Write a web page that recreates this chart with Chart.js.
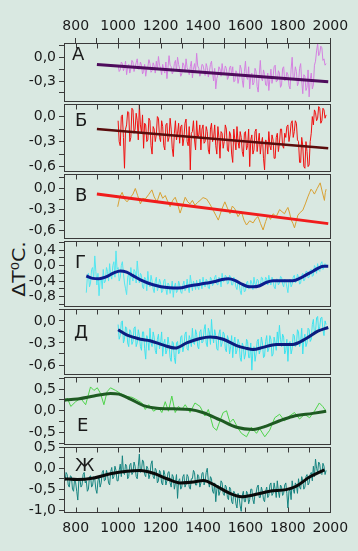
<!DOCTYPE html>
<html><head><meta charset="utf-8">
<script src="https://cdn.jsdelivr.net/npm/chart.js@4.4.1/dist/chart.umd.min.js"></script>
<style>
html,body{margin:0;padding:0;background:#d9e8e1;}
#wrap{position:relative;width:358px;height:551px;overflow:hidden;background:#d9e8e1;}
#wrap canvas{position:absolute;left:0;}
#ytitle{position:absolute;left:19px;top:269px;font-family:"DejaVu Sans";font-size:17px;color:#1a1a1a;white-space:nowrap;transform:translate(-50%,-50%) rotate(-90deg) scaleX(1.2);}
#ytitle sup{font-size:11px;}
</style></head>
<body>
<div id="wrap"><div id="ytitle">ΔT<sup>0</sup>C.</div></div>
<script>
// ---------- axis ticks ----------
const xTickYears = [800,900,1000,1100,1200,1300,1400,1500,1600,1700,1800,1900,2000];

// ---------- shared 5-year grids ----------
const years1000 = [1000,1005,1010,1015,1020,1025,1030,1035,1040,1045,1050,1055,1060,1065,1070,1075,1080,1085,1090,1095,
1100,1105,1110,1115,1120,1125,1130,1135,1140,1145,1150,1155,1160,1165,1170,1175,1180,1185,1190,1195,
1200,1205,1210,1215,1220,1225,1230,1235,1240,1245,1250,1255,1260,1265,1270,1275,1280,1285,1290,1295,
1300,1305,1310,1315,1320,1325,1330,1335,1340,1345,1350,1355,1360,1365,1370,1375,1380,1385,1390,1395,
1400,1405,1410,1415,1420,1425,1430,1435,1440,1445,1450,1455,1460,1465,1470,1475,1480,1485,1490,1495,
1500,1505,1510,1515,1520,1525,1530,1535,1540,1545,1550,1555,1560,1565,1570,1575,1580,1585,1590,1595,
1600,1605,1610,1615,1620,1625,1630,1635,1640,1645,1650,1655,1660,1665,1670,1675,1680,1685,1690,1695,
1700,1705,1710,1715,1720,1725,1730,1735,1740,1745,1750,1755,1760,1765,1770,1775,1780,1785,1790,1795,
1800,1805,1810,1815,1820,1825,1830,1835,1840,1845,1850,1855,1860,1865,1870,1875,1880,1885,1890,1895,
1900,1905,1910,1915,1920,1925,1930,1935,1940,1945,1950,1955,1960,1965,1970,1975,1980];
const years850 = [850,855,860,865,870,875,880,885,890,895,
900,905,910,915,920,925,930,935,940,945,950,955,960,965,970,975,980,985,990,995].concat(years1000);
const years750 = [750,755,760,765,770,775,780,785,790,795,
800,805,810,815,820,825,830,835,840,845,850,855,860,865,870,875,880,885,890,895,
900,905,910,915,920,925,930,935,940,945,950,955,960,965,970,975,980,985,990,995].concat(years1000);

// ---------- Panel А ----------
const valsA = [
 -0.10,-0.18,-0.16,-0.06,-0.08,-0.17,-0.13,-0.05,-0.22,-0.12,-0.09,-0.20,-0.14,-0.04,-0.06,-0.18,-0.12,-0.07,-0.02,-0.15,
 -0.15,-0.06,-0.10,-0.21,-0.18,-0.09,-0.24,-0.15,-0.12,-0.03,-0.08,-0.19,-0.17,-0.07,-0.11,-0.20,-0.05,-0.16,0.01,-0.10,
 -0.14,-0.22,-0.09,-0.16,-0.20,-0.06,-0.27,-0.13,0.02,-0.10,-0.12,-0.21,-0.18,-0.08,-0.04,-0.17,0.00,-0.09,-0.15,-0.24,
 -0.21,-0.07,-0.10,-0.19,-0.02,-0.13,-0.16,-0.22,-0.12,-0.05,-0.26,-0.15,-0.08,-0.18,0.05,-0.11,-0.14,-0.24,-0.19,-0.09,
 -0.10,-0.17,-0.23,-0.08,-0.13,-0.25,-0.18,-0.09,-0.05,-0.20,-0.30,-0.14,-0.40,-0.27,-0.22,-0.12,-0.15,-0.24,-0.08,-0.19,
 -0.20,-0.11,-0.14,-0.28,-0.25,-0.13,-0.11,-0.22,-0.12,-0.31,-0.30,-0.17,-0.20,-0.33,-0.26,-0.10,-0.15,-0.29,-0.38,-0.18,
 -0.05,-0.25,-0.28,-0.12,-0.40,-0.24,-0.20,-0.35,-0.32,-0.14,-0.18,-0.37,-0.44,-0.22,-0.04,-0.26,-0.30,-0.16,-0.22,-0.35,
 -0.36,-0.20,-0.42,-0.28,-0.15,-0.33,-0.25,-0.12,-0.10,-0.31,-0.30,-0.17,-0.20,-0.38,-0.35,-0.14,-0.12,-0.30,-0.28,-0.19,
 -0.22,-0.36,-0.40,-0.15,0.00,-0.28,-0.25,-0.12,-0.18,-0.36,-0.32,-0.14,-0.08,-0.30,-0.46,-0.22,-0.24,-0.42,-0.38,-0.16,
 -0.50,-0.28,-0.20,-0.40,-0.35,-0.10,-0.05,0.08,0.17,0.02,0.05,0.14,0.12,-0.04,-0.02,-0.10,-0.08];
const trendYearsA = [900,1990];
const trendA = [-0.09,-0.31];

// ---------- Panel Б ----------
const valsB = [
 -0.05,-0.30,-0.35,0.00,0.02,-0.25,-0.62,-0.15,-0.10,0.06,0.05,-0.30,-0.25,0.10,0.08,-0.20,-0.15,0.04,-0.05,-0.28,
 0.14,-0.10,-0.20,0.02,-0.38,-0.08,-0.10,-0.30,-0.28,-0.02,-0.05,-0.35,-0.45,-0.12,-0.15,-0.30,-0.22,0.00,-0.02,-0.25,
 -0.30,-0.05,-0.12,-0.35,-0.40,-0.10,-0.08,-0.30,-0.25,-0.02,-0.15,-0.38,-0.48,-0.20,-0.05,-0.28,-0.20,-0.08,-0.32,-0.12,
 -0.10,-0.35,-0.26,-0.08,-0.03,-0.30,-0.35,-0.12,-0.64,-0.20,-0.18,-0.05,-0.28,-0.40,-0.05,-0.25,-0.22,-0.10,-0.40,-0.15,
 -0.10,-0.32,-0.30,-0.12,-0.18,-0.40,-0.45,-0.15,-0.08,-0.30,-0.25,-0.10,-0.35,-0.45,-0.12,-0.25,-0.50,-0.18,-0.20,-0.38,
 -0.30,-0.10,-0.15,-0.40,-0.42,-0.18,-0.22,-0.45,-0.55,-0.15,-0.28,-0.40,-0.12,-0.30,-0.38,-0.18,-0.25,-0.42,-0.48,-0.20,
 -0.18,-0.40,-0.35,-0.15,-0.60,-0.28,-0.22,-0.45,-0.40,-0.18,-0.15,-0.42,-0.30,-0.20,-0.45,-0.32,-0.25,-0.50,-0.64,-0.28,
 -0.30,-0.45,-0.18,-0.35,-0.40,-0.22,-0.28,-0.50,-0.50,-0.25,-0.20,-0.42,-0.32,-0.15,-0.15,-0.35,-0.38,-0.20,-0.25,-0.12,
 -0.10,-0.30,-0.22,-0.08,-0.05,-0.25,-0.18,-0.05,-0.08,-0.28,-0.30,-0.55,-0.55,-0.25,-0.35,-0.60,-0.62,-0.30,-0.42,-0.60,
 -0.58,-0.30,-0.20,0.00,-0.10,0.08,0.05,-0.05,-0.02,0.12,0.10,-0.08,-0.05,0.10,0.08,-0.02,0.02];
const trendYearsB = [900,1990];
const trendB = [-0.15,-0.38];

// ---------- Panel В ----------
const yearsV = [998,1008,1019,1030,1042,1060,1070,1081,1092,1105,1116,1128,1143,1159,1170,1183,1198,1210,1222,1233,1245,1257,1269,1280,1292,1304,1316,1328,1339,1350,1362,1374,1386,1400,1417,1432,1448,1460,1472,1488,1503,1515,1527,1538,1550,1565,1581,1593,1605,1620,1636,1648,1659,1671,1683,1695,1706,1718,1730,1745,1761,1772,1784,1792,1800,1808,1816,1824,1831,1839,1847,1858,1870,1882,1894,1902,1909,1917,1925,1938,1952,1962,1972,1976,1980];
const valsV = [-0.26,-0.12,-0.055,-0.15,-0.19,
 -0.12,-0.08,0.00,-0.10,-0.22,
 -0.14,-0.15,-0.09,-0.02,-0.12,
 -0.19,-0.055,-0.14,-0.10,-0.18,
 -0.26,-0.17,-0.125,-0.22,-0.35,
 -0.24,-0.125,-0.19,-0.22,-0.17,
 -0.24,-0.20,-0.17,-0.13,-0.15,
 -0.22,-0.31,-0.38,-0.45,-0.30,
 -0.19,-0.28,-0.36,-0.25,-0.29,
 -0.40,-0.33,-0.45,-0.52,-0.46,
 -0.49,-0.43,-0.40,-0.50,-0.59,
 -0.47,-0.38,-0.44,-0.36,-0.40,
 -0.30,-0.33,-0.36,-0.31,-0.27,
 -0.35,-0.45,-0.50,-0.56,-0.47,
 -0.38,-0.34,-0.31,-0.22,-0.12,
 -0.06,-0.01,-0.04,-0.08,0.00,
 0.08,-0.05,-0.17,-0.06,-0.01];
const trendYearsV = [900,1990];
const trendV = [-0.08,-0.50];

// ---------- Panel Г ----------
const valsG = [
 -0.70,-0.30,-0.20,-0.55,-0.45,-0.10,-0.05,-0.35,0.25,-0.15,
 -0.50,-0.20,-0.78,-0.40,-0.30,-0.60,-0.10,-0.45,-0.40,-0.05,-0.15,-0.40,0.05,-0.25,-0.35,0.00,0.10,-0.30,0.38,-0.10,
 -0.05,-0.40,-0.30,0.00,0.10,-0.20,-0.45,-0.60,-0.75,-0.30,-0.20,-0.50,-0.05,-0.30,-0.40,-0.10,-0.15,-0.45,0.12,-0.20,
 -0.45,-0.20,-0.25,-0.55,-0.60,-0.30,-0.35,-0.65,-0.15,-0.45,-0.55,-0.25,-0.40,-0.60,-0.70,-0.40,-0.30,-0.65,-0.55,-0.35,
 -0.45,-0.70,-0.65,-0.40,-0.35,-0.60,-0.75,-0.45,-0.50,-0.72,-0.60,-0.40,-0.82,-0.55,-0.45,-0.70,-0.65,-0.40,-0.50,-0.68,
 -0.72,-0.50,-0.40,-0.65,-0.60,-0.35,-0.55,-0.70,-0.25,-0.45,-0.65,-0.40,-0.50,-0.62,-0.38,-0.55,-0.62,-0.35,-0.45,-0.60,
 -0.30,-0.50,-0.55,-0.35,-0.40,-0.58,-0.60,-0.30,-0.35,-0.52,-0.45,-0.30,-0.25,-0.48,-0.50,-0.30,-0.35,-0.55,-0.20,-0.42,
 -0.40,-0.25,-0.28,-0.48,-0.45,-0.25,-0.30,-0.50,-0.50,-0.30,-0.38,-0.55,-0.62,-0.40,-0.45,-0.65,-0.75,-0.45,-0.50,-0.68,
 -0.65,-0.45,-0.40,-0.60,-0.58,-0.38,-0.45,-0.62,-0.30,-0.48,-0.50,-0.35,-0.38,-0.55,-0.55,-0.30,-0.32,-0.50,-0.48,-0.30,
 -0.35,-0.50,-0.25,-0.42,-0.50,-0.30,-0.40,-0.55,-0.60,-0.35,-0.35,-0.50,-0.45,-0.28,-0.30,-0.48,-0.55,-0.35,-0.40,-0.55,
 -0.70,-0.40,-0.35,-0.55,-0.48,-0.30,-0.25,-0.45,-0.40,-0.22,-0.30,-0.48,-0.45,-0.25,-0.20,-0.40,-0.35,-0.15,-0.15,-0.32,
 -0.30,-0.12,-0.10,-0.28,-0.25,0.00,-0.05,-0.20,0.05,-0.12,-0.15,0.05,0.10,-0.10,-0.05,0.05,0.02];
const smoothYearsG = [850,880,910,940,980,1010,1040,1070,1105,1140,1183,1220,1261,1300,1340,1386,1420,1450,1490,1519,1550,1580,1610,1636,1667,1700,1730,1770,1823,1860,1886,1920,1948,1970,1990];
const smoothG = [-0.27,-0.33,-0.34,-0.30,-0.19,-0.14,-0.17,-0.26,-0.37,-0.45,-0.52,-0.56,-0.58,-0.57,-0.52,-0.48,-0.45,-0.42,-0.36,-0.34,-0.38,-0.47,-0.54,-0.55,-0.52,-0.43,-0.39,-0.39,-0.39,-0.32,-0.24,-0.14,-0.05,-0.02,-0.02];

// ---------- Panel Д ----------
const valsD = [
 -0.05,-0.25,-0.20,-0.02,0.00,-0.30,-0.25,-0.08,-0.10,-0.30,-0.35,-0.12,-0.15,-0.32,-0.28,-0.10,-0.08,-0.35,-0.30,-0.12,
 -0.20,-0.35,-0.40,-0.15,-0.15,-0.38,-0.52,-0.20,-0.25,-0.40,-0.10,-0.30,-0.35,-0.15,-0.22,-0.40,-0.45,-0.25,-0.18,-0.38,
 -0.30,-0.15,-0.48,-0.30,-0.25,-0.45,-0.40,-0.22,-0.32,-0.50,-0.55,-0.28,-0.30,-0.50,-0.58,-0.30,-0.28,-0.45,-0.42,-0.22,
 -0.20,-0.42,-0.35,-0.18,-0.15,-0.38,-0.40,-0.20,-0.25,-0.35,-0.10,-0.30,-0.32,-0.12,-0.18,-0.35,-0.38,-0.15,-0.12,-0.30,
 -0.28,-0.12,-0.05,-0.30,-0.35,-0.10,-0.15,-0.32,0.02,-0.20,-0.30,-0.12,-0.20,-0.38,-0.40,-0.18,-0.12,-0.35,-0.30,-0.15,
 -0.18,-0.38,-0.42,-0.20,-0.25,-0.45,-0.35,-0.20,-0.50,-0.30,-0.22,-0.45,-0.40,-0.25,-0.30,-0.50,-0.55,-0.30,-0.35,-0.52,
 -0.45,-0.25,-0.28,-0.50,-0.50,-0.30,-0.67,-0.40,-0.35,-0.55,-0.45,-0.28,-0.25,-0.45,-0.40,-0.22,-0.30,-0.50,-0.48,-0.28,
 -0.20,-0.42,-0.38,-0.20,-0.25,-0.48,-0.45,-0.22,-0.30,-0.40,-0.15,-0.30,-0.06,-0.25,-0.35,-0.18,-0.22,-0.45,-0.40,-0.25,
 -0.55,-0.30,-0.28,-0.45,-0.38,-0.18,-0.20,-0.35,-0.32,-0.12,-0.15,-0.35,-0.28,-0.10,-0.45,-0.25,-0.18,-0.35,-0.30,-0.10,
 -0.12,-0.28,-0.25,-0.05,0.02,-0.18,-0.15,0.04,0.06,-0.15,-0.08,0.04,0.05,-0.12,-0.20,0.00,-0.05];
const smoothYearsD = [1000,1040,1070,1105,1150,1214,1269,1323,1386,1433,1495,1558,1600,1636,1683,1745,1823,1886,1941,1990];
const smoothD = [-0.12,-0.19,-0.22,-0.25,-0.27,-0.33,-0.37,-0.30,-0.24,-0.22,-0.25,-0.335,-0.37,-0.39,-0.36,-0.32,-0.32,-0.24,-0.14,-0.09];

// ---------- Panel Е ----------
const yearsE = [745,761,777,800,823,847,870,886,902,917,933,948,964,988,1011,1042,1066,1089,1112,1128,1144,1167,1191,1206,1222,1237,1253,1269,1284,1300,1316,1339,1362,1386,1409,1425,1448,1464,1480,1495,1511,1527,1542,1566,1581,1605,1628,1652,1667,1691,1714,1738,1761,1784,1808,1831,1855,1878,1902,1925,1948,1964,1980];
const valsE = [0.18,0.29,0.10,0.21,0.29,0.14,0.55,0.47,0.53,0.40,0.14,0.44,0.53,0.47,0.40,0.33,0.31,0.25,0.18,0.03,0.14,-0.01,0.07,-0.04,0.21,-0.01,0.34,-0.04,0.10,0.03,0.14,-0.04,0.18,0.10,-0.12,0.03,-0.38,-0.45,-0.23,-0.04,0.00,-0.27,-0.19,-0.41,-0.52,-0.60,-0.38,-0.52,-0.41,-0.60,-0.45,-0.16,-0.08,-0.23,-0.12,-0.04,-0.19,-0.08,-0.16,-0.01,0.18,0.10,-0.01];
const smoothYearsE = [745,808,886,964,1003,1058,1120,1183,1261,1339,1402,1480,1558,1636,1698,1761,1823,1917,1980];
const smoothE = [0.25,0.27,0.34,0.40,0.385,0.27,0.12,0.06,0.045,0.03,-0.045,-0.21,-0.38,-0.43,-0.355,-0.23,-0.13,-0.06,-0.01];

// ---------- Panel Ж ----------
const valsZh = [
 -0.30,-0.10,-0.15,-0.40,-0.45,-0.18,-0.20,-0.50,-0.55,-0.25,
 -0.35,-0.55,-0.76,-0.30,-0.25,-0.45,-0.40,-0.15,-0.10,-0.35,-0.30,-0.55,-0.50,-0.20,-0.18,-0.45,-0.40,-0.20,-0.25,-0.50,
 -0.60,-0.30,-0.20,-0.45,-0.35,-0.10,-0.05,-0.30,-0.28,-0.05,-0.15,-0.35,-0.40,-0.08,0.02,-0.25,-0.20,0.05,-0.05,-0.30,
 -0.30,-0.05,0.10,-0.20,0.30,-0.10,-0.15,0.10,0.05,-0.25,-0.20,0.08,0.12,-0.15,-0.10,0.15,0.05,-0.20,-0.25,0.05,
 0.34,-0.10,-0.05,0.20,0.15,-0.15,-0.20,0.05,0.00,-0.25,-0.15,0.10,0.18,-0.20,-0.25,0.00,-0.05,-0.35,-0.30,-0.05,
 -0.10,-0.35,-0.40,-0.05,-0.15,-0.40,-0.30,-0.10,-0.08,-0.35,-0.45,-0.15,-0.20,-0.50,-0.35,-0.15,-0.72,-0.30,-0.25,-0.50,
 -0.45,-0.20,-0.15,-0.45,-0.38,-0.15,-0.20,-0.45,-0.50,-0.25,-0.25,-0.05,-0.10,-0.40,-0.40,-0.15,-0.20,-0.45,-0.35,-0.12,
 -0.10,-0.40,-0.30,-0.10,0.00,-0.30,-0.45,-0.20,-0.25,-0.55,-0.60,-0.35,-0.80,-0.50,-0.40,-0.65,-0.55,-0.30,-0.35,-0.60,
 -0.65,-0.40,-0.45,-0.70,-0.75,-0.45,-0.50,-0.80,-0.85,-0.55,-0.60,-0.85,-0.95,-0.60,-0.70,-0.90,-1.03,-0.65,-0.55,-0.80,
 -0.80,-0.55,-0.60,-0.85,-0.75,-0.50,-0.50,-0.75,-0.85,-0.60,-0.60,-0.45,-0.40,-0.70,-0.70,-0.45,-0.55,-0.75,-0.80,-0.55,
 -0.45,-0.70,-0.65,-0.40,-0.35,-0.65,-0.60,-0.35,-0.50,-0.70,-0.30,-0.55,-0.70,-0.40,-0.45,-0.65,-0.60,-0.40,-0.35,-0.60,
 -0.95,-0.55,-0.50,-0.75,-0.30,-0.50,-0.60,-0.35,-0.40,-0.60,-0.25,-0.45,-0.50,-0.20,-0.30,-0.50,-0.45,-0.20,-0.15,-0.40,
 -0.35,-0.15,-0.10,-0.30,0.05,-0.20,0.22,0.00,-0.10,0.15,0.10,-0.12,-0.15,0.12,0.05,-0.15,-0.05];
const smoothYearsZh = [745,808,886,964,1042,1105,1167,1230,1292,1355,1402,1464,1527,1581,1636,1714,1792,1839,1902,1972];
const smoothZh = [-0.25,-0.27,-0.23,-0.13,-0.07,-0.055,-0.12,-0.25,-0.35,-0.33,-0.29,-0.43,-0.60,-0.68,-0.64,-0.55,-0.51,-0.43,-0.21,-0.04];

// ---------- helpers ----------
const pts = (xs, ys) => xs.map((x, i) => ({x, y: ys[i]}));
const noisy = (xs, ys, color) => ({data: pts(xs, ys), borderColor: color, borderWidth: 1, pointRadius: 0, tension: 0, order: 2});
const smooth = (xs, ys, color, w) => ({data: pts(xs, ys), borderColor: color, borderWidth: w || 3, pointRadius: 0, cubicInterpolationMode: 'monotone', order: 1});

const AXIS = '#3a3a3a', TXT = '#1a1a1a';
const FONT = {family: 'DejaVu Sans', size: 14};

const framePlugin = {
  id: 'frame',
  afterDraw(chart, args, o) {
    const {ctx, chartArea: a, scales} = chart;
    ctx.save();
    ctx.strokeStyle = AXIS; ctx.lineWidth = 1;
    const L = Math.round(a.left) + 0.5, T = Math.round(a.top) + 0.5, R = Math.round(a.right) - 0.5, B = Math.round(a.bottom) - 0.5;
    ctx.strokeRect(L, T, R - L, B - T);
    ctx.beginPath();
    for (const yr of xTickYears) {
      const x = Math.round(scales.x.getPixelForValue(yr)) + 0.5;
      ctx.moveTo(x, T); ctx.lineTo(x, T + 5);
      if (o.bottomTicks) { ctx.moveTo(x, B); ctx.lineTo(x, B - 5); }
    }
    ctx.stroke();
    ctx.fillStyle = TXT;
    ctx.font = '18px "DejaVu Sans"';
    ctx.textBaseline = 'alphabetic';
    ctx.textAlign = 'left';
    ctx.fillText(o.letter, a.left + o.dx, a.top + o.base);
    ctx.restore();
  }
};

const panels = [
  {letter: 'А', top: 43, bottom: 103, yMin: -0.56, yMax: 0.18, step: 0.15, lab: 0.3, dx: 8, base: 17, axis: 'top',
   sets: [noisy(years1000, valsA, '#d480e0'), smooth(trendYearsA, trendA, '#4e0c5c')]},
  {letter: 'Б', top: 103, bottom: 173, yMin: -0.66, yMax: 0.146, step: 0.15, lab: 0.3, dx: 11, base: 22,
   sets: [noisy(years1000, valsB, '#f01010'), smooth(trendYearsB, trendB, '#5a0c0c', 2.5)]},
  {letter: 'В', top: 173, bottom: 240, yMin: -0.713, yMax: 0.2, step: 0.15, lab: 0.3, dx: 11, base: 27,
   sets: [noisy(yearsV, valsV, '#d8a032'), smooth(trendYearsV, trendV, '#f01c1c')]},
  {letter: 'Г', top: 240, bottom: 308, yMin: -1.06, yMax: 0.625, step: 0.2, lab: 0.4, dx: 11, base: 27,
   sets: [noisy(years850, valsG, '#52e6f0'), smooth(smoothYearsG, smoothG, '#0c1c8e')]},
  {letter: 'Д', top: 308, bottom: 376, yMin: -0.73, yMax: 0.156, step: 0.15, lab: 0.3, dx: 10, base: 29,
   sets: [noisy(years1000, valsD, '#3ce2ee'), smooth(smoothYearsD, smoothD, '#0c1c7e')]},
  {letter: 'Е', top: 376, bottom: 446, yMin: -0.78, yMax: 0.77, step: 0.25, lab: 0.5, dx: 13, base: 54,
   sets: [noisy(yearsE, valsE, '#4ed44a'), smooth(smoothYearsE, smoothE, '#1e5a22')]},
  {letter: 'Ж', top: 446, bottom: 513, yMin: -1.07, yMax: 0.5, step: 0.25, lab: 0.5, dx: 11, base: 24, axis: 'bottom',
   sets: [noisy(years750, valsZh, '#168480'), smooth(smoothYearsZh, smoothZh, '#0a0a0a')]}
];

const wrap = document.getElementById('wrap');
panels.forEach(p => {
  const isTop = p.axis === 'top', isBot = p.axis === 'bottom';
  const cTop = isTop ? 0 : p.top - 10;
  const cBot = isBot ? 551 : p.bottom + 10;
  const c = document.createElement('canvas');
  c.width = 358; c.height = cBot - cTop;
  c.style.top = cTop + 'px';
  c.style.width = '358px'; c.style.height = (cBot - cTop) + 'px';
  wrap.appendChild(c);
  const xH = isTop ? (p.top - cTop) : (isBot ? 30 : 0);
  const padTop = isTop ? 0 : 10;
  const padBottom = isBot ? (cBot - p.bottom - 30) : 10;
  const lab = p.lab;
  new Chart(c, {
    type: 'line',
    data: {datasets: p.sets},
    plugins: [framePlugin],
    options: {
      responsive: false, animation: false, devicePixelRatio: 1, events: [],
      layout: {padding: {top: padTop, bottom: padBottom, left: 0, right: 27}},
      plugins: {legend: {display: false}, tooltip: {enabled: false},
        frame: {letter: p.letter, dx: p.dx, base: p.base, bottomTicks: isBot}},
      scales: {
        x: {
          type: 'linear', min: 745, max: 2003,
          position: isTop ? 'top' : 'bottom',
          display: isTop || isBot,
          afterFit: s => { s.height = xH; },
          grid: {drawOnChartArea: false, drawTicks: isTop, tickLength: 5, color: AXIS},
          border: {display: false},
          ticks: {stepSize: 100, autoSkip: false, maxRotation: 0, includeBounds: false,
            padding: isTop ? 3 : 7, font: FONT, color: TXT,
            callback: v => (Math.round(v) % 200 === 0 ? String(Math.round(v)) : '')}
        },
        y: {
          min: p.yMin, max: p.yMax,
          afterFit: s => { s.width = 64; },
          grid: {drawOnChartArea: false, tickLength: 5, color: AXIS},
          border: {display: false},
          ticks: {stepSize: p.step, autoSkip: false, includeBounds: false, padding: 3, font: FONT, color: TXT,
            callback: v => {
              const k = v / lab;
              if (Math.abs(k - Math.round(k)) > 1e-6) return '';
              let r = Math.round(v * 100) / 100;
              return (r === 0 ? 0 : r).toFixed(1).replace('.', ',');
            }}
        }
      }
    }
  });
});
</script>
</body></html>
